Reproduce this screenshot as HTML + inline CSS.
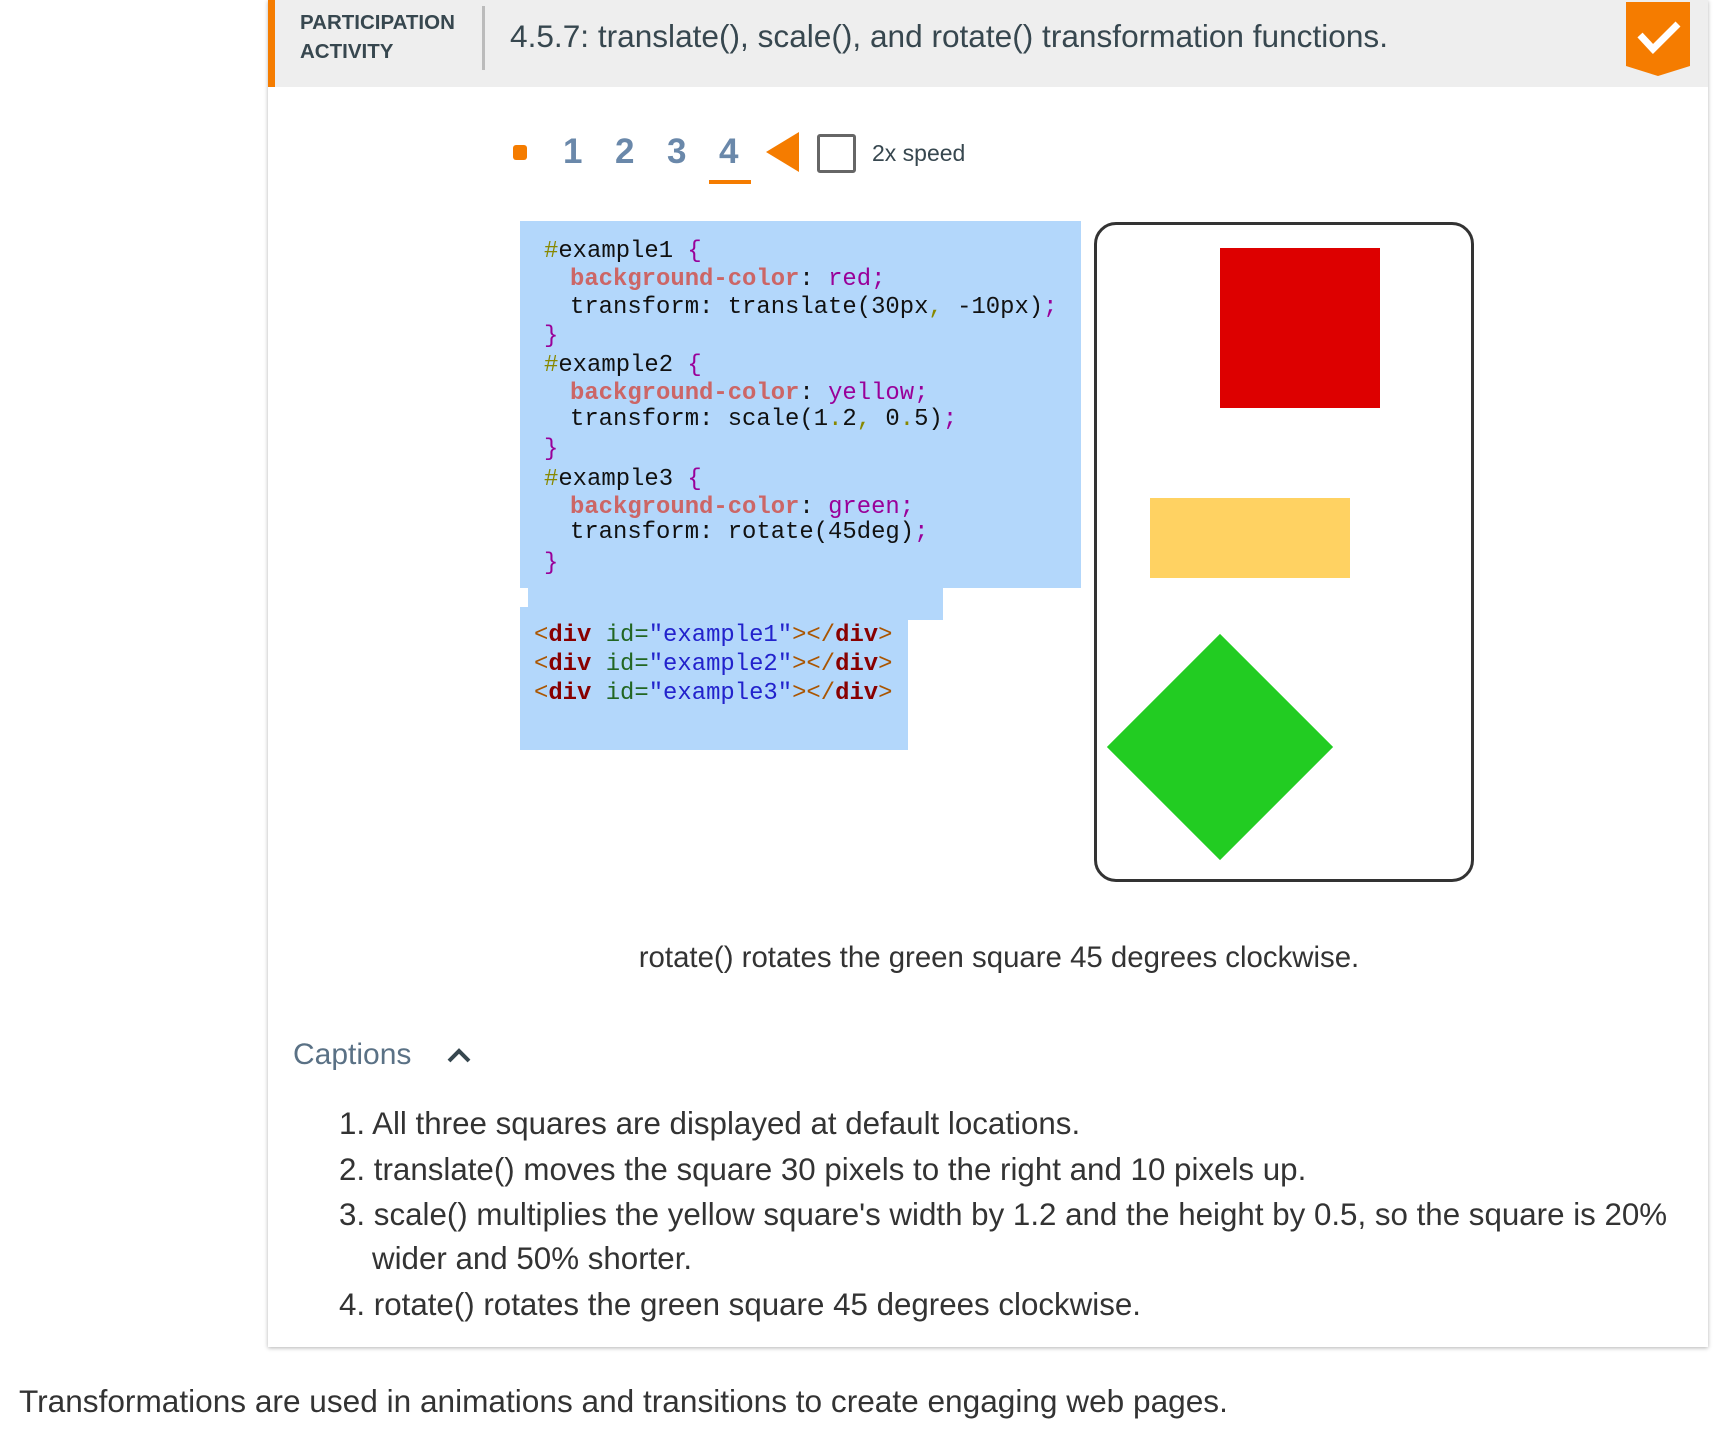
<!DOCTYPE html>
<html><head><meta charset="utf-8"><style>
body{margin:0;width:1720px;height:1452px;background:#fff;position:relative;overflow:hidden;font-family:"Liberation Sans",sans-serif;color:#333}
.a{position:absolute;white-space:nowrap}
.m{font-family:"Liberation Mono",monospace;font-size:23.9px;color:#111}
.k{color:#c66;font-weight:bold}.p{color:#909}.o{color:#880}
.t{color:#a50;}.tg{color:#800;font-weight:bold}.at{color:#262}.s{color:#22c}
.n{font-weight:bold;color:#6a88aa;font-size:35px;top:132px}
.l{font-size:31.3px;color:#333;font-weight:300}
</style></head><body>
<div class="a" style="left:268px;top:0;width:1440px;height:1347px;background:#fff;box-shadow:0 1px 4px rgba(0,0,0,.3)"></div>
<div class="a" style="left:268px;top:0;width:1440px;height:87px;background:#eee"></div>
<div class="a" style="left:268px;top:0;width:7px;height:87px;background:#f57c00"></div>
<div class="a" style="left:300px;top:8px;font-weight:bold;font-size:20.5px;line-height:29px;color:#37474f">PARTICIPATION<br>ACTIVITY</div>
<div class="a" style="left:482px;top:6px;width:3px;height:64px;background:#bbb"></div>
<div class="a" style="left:510px;top:18px;font-size:31.6px;color:#37474f">4.5.7: translate(), scale(), and rotate() transformation functions.</div>
<svg class="a" style="left:1626px;top:2px" width="64" height="75"><polygon points="0,0 64,0 64,64 32,74 0,64" fill="#f57c00"/><polyline points="14,33 27,47 52,22" fill="none" stroke="#fff" stroke-width="7"/></svg>

<div class="a" style="left:513px;top:145px;width:14px;height:15px;background:#f57c00;border-radius:3px"></div>
<div class="a n" style="left:563px">1</div>
<div class="a n" style="left:615px">2</div>
<div class="a n" style="left:667px">3</div>
<div class="a n" style="left:719px">4</div>
<div class="a" style="left:709px;top:180px;width:42px;height:4px;background:#f57c00"></div>
<svg class="a" style="left:766px;top:132px" width="34" height="40"><polygon points="0,20 33,0 33,40" fill="#f57c00"/></svg>
<div class="a" style="left:817px;top:134px;width:33px;height:33px;border:3px solid #666;border-radius:3px"></div>
<div class="a" style="left:872px;top:140px;font-size:23px;color:#37474f">2x speed</div>

<div class="a" style="left:520px;top:221px;width:561px;height:367px;background:#b3d7fb"></div>
<div class="a" style="left:528px;top:587px;width:415px;height:33px;background:#b3d7fb"></div>
<div class="a" style="left:520px;top:607px;width:388px;height:143px;background:#b3d7fb"></div>
<div class="a m" style="left:544px;top:238px"><span class="o">#</span>example1 <span class="p">{</span></div>
<div class="a m" style="left:570px;top:266px"><span class="k">background-color</span>: <span class="p">red;</span></div>
<div class="a m" style="left:570px;top:294px">transform: translate(30px<span class="o">,</span> -10px)<span class="p">;</span></div>
<div class="a m" style="left:544px;top:323px"><span class="p">}</span></div>
<div class="a m" style="left:544px;top:352px"><span class="o">#</span>example2 <span class="p">{</span></div>
<div class="a m" style="left:570px;top:380px"><span class="k">background-color</span>: <span class="p">yellow;</span></div>
<div class="a m" style="left:570px;top:406px">transform: scale(1<span class="o">.</span>2<span class="o">,</span> 0<span class="o">.</span>5)<span class="p">;</span></div>
<div class="a m" style="left:544px;top:436px"><span class="p">}</span></div>
<div class="a m" style="left:544px;top:466px"><span class="o">#</span>example3 <span class="p">{</span></div>
<div class="a m" style="left:570px;top:494px"><span class="k">background-color</span>: <span class="p">green;</span></div>
<div class="a m" style="left:570px;top:519px">transform: rotate(45deg)<span class="p">;</span></div>
<div class="a m" style="left:544px;top:550px"><span class="p">}</span></div>
<div class="a m" style="left:534px;top:622px"><span class="t">&lt;</span><span class="tg">div</span> <span class="at">id=</span><span class="s">"example1"</span><span class="t">&gt;&lt;/</span><span class="tg">div</span><span class="t">&gt;</span></div>
<div class="a m" style="left:534px;top:651px"><span class="t">&lt;</span><span class="tg">div</span> <span class="at">id=</span><span class="s">"example2"</span><span class="t">&gt;&lt;/</span><span class="tg">div</span><span class="t">&gt;</span></div>
<div class="a m" style="left:534px;top:680px"><span class="t">&lt;</span><span class="tg">div</span> <span class="at">id=</span><span class="s">"example3"</span><span class="t">&gt;&lt;/</span><span class="tg">div</span><span class="t">&gt;</span></div>

<div class="a" style="left:1094px;top:222px;width:374px;height:654px;border:3px solid #333;border-radius:22px"></div>
<div class="a" style="left:1220px;top:248px;width:160px;height:160px;background:#dd0000"></div>
<div class="a" style="left:1150px;top:498px;width:200px;height:80px;background:#ffd262"></div>
<div class="a" style="left:1140px;top:667px;width:160px;height:160px;background:#22cc22;transform:rotate(45deg)"></div>

<div class="a l" style="left:0;width:1998px;text-align:center;top:941px;font-size:29.4px">rotate() rotates the green square 45 degrees clockwise.</div>
<div class="a l" style="left:293px;top:1038px;color:#5a7185;font-size:30px">Captions</div>
<svg class="a" style="left:446px;top:1046px" width="26" height="18"><polyline points="3,15 13,5 23,15" fill="none" stroke="#37474f" stroke-width="4"/></svg>
<div class="a l" style="left:339px;top:1106px">1. All three squares are displayed at default locations.</div>
<div class="a l" style="left:339px;top:1152px">2. translate() moves the square 30 pixels to the right and 10 pixels up.</div>
<div class="a l" style="left:339px;top:1197px">3. scale() multiplies the yellow square's width by 1.2 and the height by 0.5, so the square is 20%</div>
<div class="a l" style="left:372px;top:1241px">wider and 50% shorter.</div>
<div class="a l" style="left:339px;top:1287px">4. rotate() rotates the green square 45 degrees clockwise.</div>
<div class="a l" style="left:19px;top:1383px;font-size:31.6px">Transformations are used in animations and transitions to create engaging web pages.</div>
</body></html>
